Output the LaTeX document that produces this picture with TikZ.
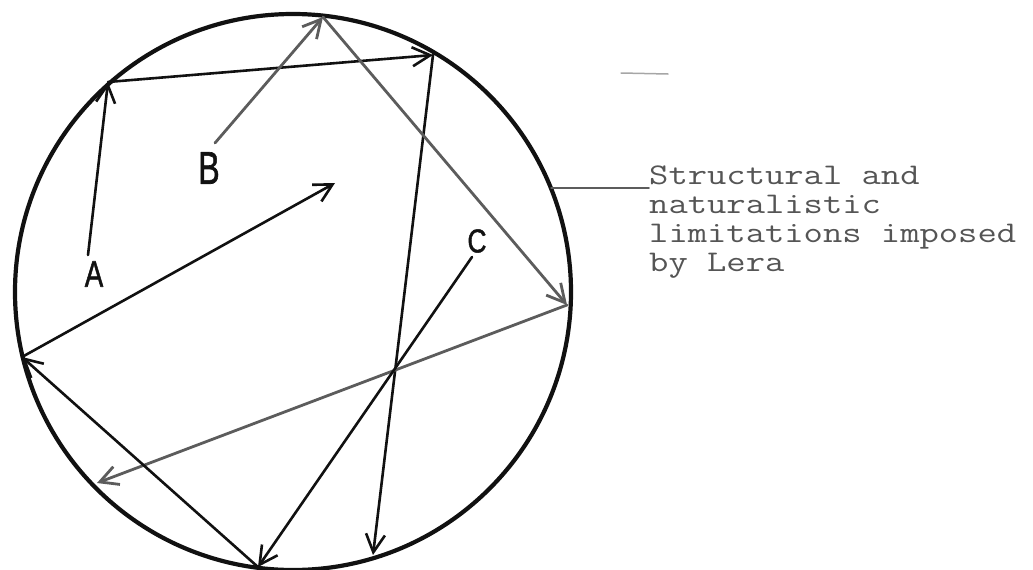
\documentclass[tikz,border=0pt]{standalone}
\usepackage{fontspec}
\newfontfamily\typedfont{Latin Modern Mono}[FakeStretch=1.25]
\newfontfamily\lblfont{Liberation Sans}[FakeBold=1.5]
\usetikzlibrary{arrows.meta}
\definecolor{ink}{HTML}{111111}
\definecolor{pencil}{HTML}{5C5C5C}
\definecolor{typed}{HTML}{555555}
\begin{document}
\begin{tikzpicture}[x=1pt,y=-1pt,
  line cap=round, line join=round,
  rim/.style={draw=ink, line width=4.2pt},
  barb/.style={-{Straight Barb[length=18pt,width=19pt]}},
  blackpath/.style={barb, draw=ink, line width=2.6pt},
  graypath/.style={barb, draw=pencil, line width=2.8pt},
  letter/.style={inner sep=0pt, text=ink, font=\lblfont},
  leader/.style={draw=pencil, line width=1.5pt}]
\useasboundingbox (0,0) rectangle (1033,570);
% circle
\node[rim, circle, minimum size=556pt, inner sep=0pt] (circ) at (293,292) {};
% points on the rim
\coordinate (p1) at (108,82);
\coordinate (p2) at (433,55);
\coordinate (p3) at (323,17);
\coordinate (p4) at (567,305);
\coordinate (p5) at (97,483);
\coordinate (p6) at (22,357);
\coordinate (p7) at (258,567);
\coordinate (p8) at (373,555);
\coordinate (mid) at (335,183);
% start points
\coordinate (sa) at (88,255);
\coordinate (sb) at (215,143);
\coordinate (sc) at (472,257);
% letters
\node[letter] (A) at (94,274) {\scalebox{0.75}[1]{\fontsize{37}{37}\selectfont A}};
\node[letter] (B) at (209,168) {\scalebox{0.7}[1]{\fontsize{46}{46}\selectfont B}};
\node[letter] (C) at (477,241) {\scalebox{0.8}[1]{\fontsize{33}{33}\selectfont C}};
% path A
\draw[blackpath] (sa) -- (p1);
\draw[blackpath] (p1) -- (p2);
\draw[blackpath] (p2) -- (p8);
% path B
\draw[graypath] (sb) -- (p3);
\draw[graypath] (p3) -- (p4);
\draw[graypath] (p4) -- (p5);
% path C
\draw[blackpath] (sc) -- (p7);
\draw[blackpath] (p7) -- (p6);
\draw[blackpath] (p6) -- (mid);
% label
\node[anchor=north west, align=left, inner sep=0pt, text=typed,
      font=\typedfont\fontsize{30}{29}\selectfont] (txt) at (649,166)
  {Structural and\\naturalistic\\limitations imposed\\by Lera};
\coordinate (L1) at (551,188);
\draw[leader] (L1) -- (L1 -| txt.west);
% faint stray mark
\coordinate (s1) at (621,73);
\coordinate (s2) at (668,74);
\draw[draw=black!35, line width=1.5pt] (s1) -- (s2);
\end{tikzpicture}
\end{document}
